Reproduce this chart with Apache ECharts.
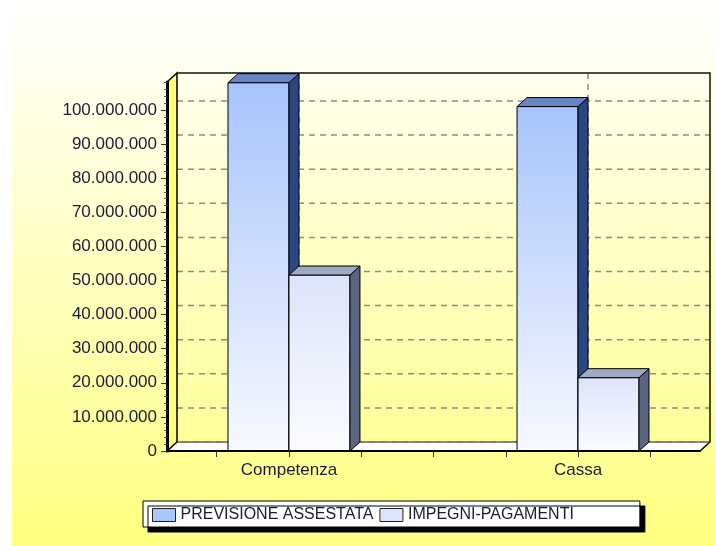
<!DOCTYPE html>
<html><head><meta charset="utf-8">
<script src="https://cdn.jsdelivr.net/npm/echarts@6/dist/echarts.min.js"></script>
<style>html,body{margin:0;padding:0;background:#fff}#c{width:716px;height:546px}</style>
</head><body><div id="c"></div>
<script>
// ---- data ----
const categories = ['Competenza', 'Cassa'];
const seriesNames = ['PREVISIONE ASSESTATA', 'IMPEGNI-PAGAMENTI'];
const previsioneAssestata = [108000000, 101000000];
const impegniPagamenti = [51600000, 21500000];
const yTickValues = [0, 10000000, 20000000, 30000000, 40000000, 50000000, 60000000, 70000000, 80000000, 90000000, 100000000];
const xTickValues = [-0.25, 0, 0.25, 0.5, 0.75, 1, 1.25];

// ---- layout constants ----
const Y_MAX = 108200000;
const X_MIN = -0.422, X_MAX = 1.422;
const DX = 10, DY = -9;
const BAR_W = 0.211;
const FONT = "'Liberation Sans', Arial, sans-serif";
const TXT = '#1b1b38';

function fmt(v) { return String(Math.round(v)).replace(/\B(?=(\d{3})+(?!\d))/g, '.'); }

function renderFrame(params, api) {
  const cs = params.coordSys;
  const L = cs.x, R = cs.x + cs.width, T = cs.y, B = cs.y + cs.height;
  const ch = [];
  ch.push({type: 'polygon', shape: {points: [[L, B], [R, B], [R + DX, B + DY], [L + DX, B + DY]]},
    style: {fill: '#ffffff', stroke: '#000', lineWidth: 1}});
  yTickValues.forEach(v => {
    const y = api.coord([0, v])[1] + DY;
    ch.push({type: 'line', shape: {x1: L + DX, y1: y, x2: R + DX, y2: y},
      style: {stroke: '#8c8c8c', lineWidth: 1.5, lineDash: [6, 5]}});
  });
  categories.forEach((c, i) => {
    const x = api.coord([i, 0])[0] + DX;
    ch.push({type: 'line', shape: {x1: x, y1: T + DY, x2: x, y2: B + DY},
      style: {stroke: '#8c8c8c', lineWidth: 1.5, lineDash: [6, 5]}});
  });
  ch.push({type: 'polyline', shape: {points: [[L + DX, T + DY], [R + DX, T + DY], [R + DX, B + DY], [R, B]]},
    style: {fill: null, stroke: '#111', lineWidth: 1.5}});
  ch.push({type: 'polygon', shape: {points: [[L, B], [L, T], [L + DX, T + DY], [L + DX, B + DY]]},
    style: {fill: '#ffff78', stroke: '#000', lineWidth: 1.5}});
  return {type: 'group', children: ch};
}

function makeBarRender(offset, c) {
  return function (params, api) {
    const i = api.value(0), v = api.value(1);
    const x0 = i + offset, x1 = x0 + BAR_W;
    const pb = api.coord([x0, 0]), pt = api.coord([x1, v]);
    const l = pb[0], r = pt[0], b = pb[1], t = pt[1];
    return {type: 'group', children: [
      {type: 'rect', shape: {x: l, y: t, width: r - l, height: b - t},
        style: {fill: {type: 'linear', x: 0, y: 0, x2: 0, y2: 1,
          colorStops: [{offset: 0, color: c.top}, {offset: 1, color: c.bottom}]}, stroke: '#000', lineWidth: 1}},
      {type: 'polygon', shape: {points: [[r, t], [r + DX, t + DY], [r + DX, b + DY], [r, b]]},
        style: {fill: c.side, stroke: '#000', lineWidth: 1}},
      {type: 'polygon', shape: {points: [[l, t], [l + DX, t + DY], [r + DX, t + DY], [r, t]]},
        style: {fill: c.cap, stroke: '#000', lineWidth: 1}}
    ]};
  };
}

const blue = {top: '#a7c4fb', bottom: '#f7f9ff', side: '#2b4782', cap: '#6784c6'};
const lav = {top: '#dce4fa', bottom: '#fbfcff', side: '#5b6582', cap: '#9fa9c4'};

const chart = echarts.init(document.getElementById('c'), null, {renderer: 'canvas'});
chart.setOption({
  animation: false,
  backgroundColor: '#ffffff',
  graphic: [{
    type: 'rect', z: -100, silent: true,
    shape: {x: 12, y: 0, width: 704, height: 546},
    style: {fill: {type: 'linear', x: 0, y: 0, x2: 0, y2: 1,
      colorStops: [{offset: 0, color: '#ffffff'}, {offset: 1, color: '#ffff80'}]}}
  }],
  grid: {left: 167, right: 16, top: 82, bottom: 95, containLabel: false},
  xAxis: {
    type: 'value', min: X_MIN, max: X_MAX, z: 5,
    axisLine: {show: true, onZero: false, lineStyle: {color: '#000', width: 2}},
    axisTick: {show: true, customValues: xTickValues, length: 6, lineStyle: {color: '#333'}},
    axisLabel: {customValues: [0, 1], formatter: v => categories[Math.round(v)],
      fontFamily: FONT, fontSize: 17, color: TXT, margin: 11},
    splitLine: {show: false}
  },
  yAxis: {
    type: 'value', min: 0, max: Y_MAX, interval: 10000000, z: 5,
    axisLine: {show: true, onZero: false, lineStyle: {color: '#000', width: 3}},
    axisTick: {show: true, customValues: yTickValues, length: 6, lineStyle: {color: '#333'}},
    minorTick: {show: true, splitNumber: 5, length: 3, lineStyle: {color: '#555'}},
    axisLabel: {customValues: yTickValues, formatter: fmt, fontFamily: FONT, fontSize: 17, color: TXT, margin: 10},
    splitLine: {show: false}
  },
  legend: {
    data: seriesNames, left: 143, top: 501, orient: 'horizontal',
    icon: 'rect', itemWidth: 23, itemHeight: 13, itemGap: 6,
    padding: [6, 66, 4, 9],
    backgroundColor: '#ffffff', borderColor: '#000', borderWidth: 1,
    shadowColor: '#000', shadowOffsetX: 5, shadowOffsetY: 5, shadowBlur: 0,
    itemStyle: {borderColor: '#222', borderWidth: 1},
    textStyle: {fontFamily: FONT, fontSize: 16, color: TXT},
    selectedMode: false
  },
  series: [
    {type: 'custom', name: 'frame', z: 1, silent: true, renderItem: renderFrame, data: [[0, 0]]},
    {type: 'custom', name: seriesNames[0], z: 3, renderItem: makeBarRender(-BAR_W, blue),
      itemStyle: {color: '#a9c6fb'}, data: previsioneAssestata.map((v, i) => [i, v])},
    {type: 'custom', name: seriesNames[1], z: 3, renderItem: makeBarRender(0, lav),
      itemStyle: {color: '#dde5fa'}, data: impegniPagamenti.map((v, i) => [i, v])}
  ]
});
</script></body></html>
